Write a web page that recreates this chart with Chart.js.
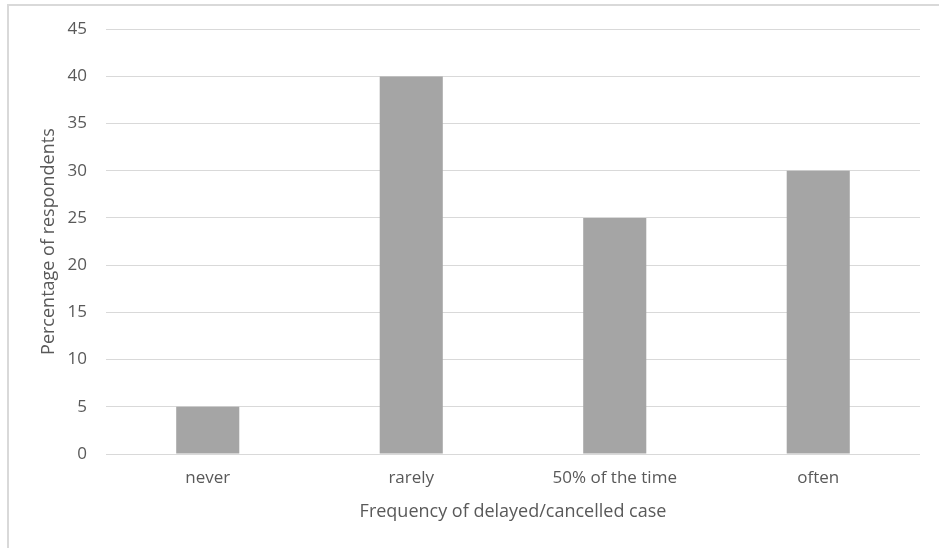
<!DOCTYPE html>
<html>
<head>
<meta charset="utf-8">
<script src="https://cdn.jsdelivr.net/npm/chart.js@4"></script>
<style>
  html, body { margin: 0; padding: 0; background: #fff; }
  #wrap { position: relative; width: 939px; height: 548px; }
</style>
</head>
<body>
<div id="wrap"><canvas id="c"></canvas></div>
<script>
// Survey results: how often respondents experienced a delayed/cancelled case
const categories = ["never", "rarely", "50% of the time", "often"];
const percentages = [5, 40, 25, 30];
const yMin = 0;
const yMax = 45;
const yStep = 5;
const xTitle = "Frequency of delayed/cancelled case";
const yTitle = "Percentage of respondents";

const textColor = "#595959";
const gridColor = "#d9d9d9";
const barColor = "#a5a5a5";
const fontFamily = "'Open Sans', 'Noto Sans', sans-serif";

// Thin light frame around the chart box
const framePlugin = {
  id: "frame",
  beforeDraw(chart) {
    const ctx = chart.ctx;
    ctx.save();
    ctx.strokeStyle = gridColor;
    ctx.lineWidth = 2;
    ctx.beginPath();
    ctx.moveTo(8, chart.height);
    ctx.lineTo(8, 5);
    ctx.lineTo(chart.width, 5);
    ctx.stroke();
    ctx.restore();
  }
};

new Chart(document.getElementById("c"), {
  type: "bar",
  data: {
    labels: categories,
    datasets: [{
      data: percentages,
      backgroundColor: barColor,
      borderWidth: 0,
      barPercentage: 0.31,
      categoryPercentage: 1.0
    }]
  },
  options: {
    responsive: true,
    maintainAspectRatio: false,
    animation: false,
    layout: { padding: { left: 0, right: 19, top: 28, bottom: 0 } },
    plugins: {
      legend: { display: false },
      tooltip: { enabled: false }
    },
    scales: {
      x: {
        grid: { display: false, drawTicks: false },
        border: { display: false },
        ticks: {
          color: textColor,
          font: { family: fontFamily, size: 17 },
          padding: 14,
          maxRotation: 0
        },
        title: {
          display: true,
          text: xTitle,
          color: textColor,
          font: { family: fontFamily, size: 18 },
          padding: { top: 0, bottom: 25 }
        },
        afterFit(scale) { scale.height = 94; }
      },
      y: {
        min: yMin,
        max: yMax,
        ticks: {
          stepSize: yStep,
          color: textColor,
          font: { family: fontFamily, size: 17 },
          padding: 19
        },
        grid: { color: gridColor, lineWidth: 1, drawTicks: false },
        border: { display: false },
        title: {
          display: true,
          text: yTitle,
          color: textColor,
          font: { family: fontFamily, size: 18 },
          padding: { top: 38, bottom: 0 }
        },
        afterFit(scale) { scale.width = 106; }
      }
    }
  },
  plugins: [framePlugin]
});
</script>
</body>
</html>
